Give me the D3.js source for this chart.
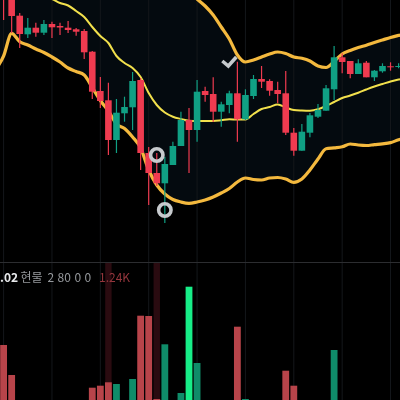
<!DOCTYPE html>
<html><head><meta charset="utf-8">
<style>html,body{margin:0;padding:0;background:#000;width:400px;height:400px;overflow:hidden}svg{display:block;filter:blur(.45px)}</style>
<script src="https://cdn.jsdelivr.net/npm/d3@7/dist/d3.min.js"></script></head><body>
<script>
const openP=[310,305,284.3,265.7,272.3,267.3,276,274,272.3,270.7,269,248.3,209,199.7,160,186.7,192.7,220,147,127,116.7,135,154,180,170,209,206,188.3,195,206.7,180.7,204,221,219,210,206.7,167.3,149.3,167.3,183.3,189.3,210.7,242.7,239,226,237.3,222.7,228.7,233.7,233];
const closeP=[302,284,266,272.3,267.3,276,272.7,272.5,270,268.3,247.7,208.3,199,160,187.3,193,219,147,127,116.7,136,154,180,170,208.3,205,188.3,195.7,206.7,180.7,205,221,218.3,209.3,206,167.3,149.3,168.3,184.7,190,211.7,242.7,238,226,236.7,222.7,229.3,234,232.7,234];
const highP=[314,308,287,282,277.3,280,278.3,277.3,279,272,271,249,223,217.3,201,203.3,228,222,153,147,143.3,158.3,188.3,192,220,213.3,222.7,198.3,209.3,238.3,210.7,225,234,220.7,218.3,229,172,176,187,196,215,254,246.7,239,240.7,239,230,236.7,237.7,236.7];
const lowP=[280,267,252,262,263.3,265,262,265,267,264.3,241,201,192,145,147,178.3,170,130,95,114,77,135,154,127,158.3,198.3,178,173.3,186.7,158.3,180,201,212,204.3,197,165,144.3,149.3,162.7,182,189.3,200,226.7,221.7,226,222.7,219,227.3,229.3,231.7];
// band arrays carry one extra value at each end, for the candles just outside the view
const upperBand=[360,360,360,360,360,360,360,360,360,360,360,360,360,360,360,360,360,355,350,345,340,335,328,320,310,301,294,285,273,261,245,238,240,243,246,248,246.5,243,241.7,239,234,232.5,238.5,246,249.5,252.4,254.8,257.5,260,262.5,264.6,266.5];
const midBand=[335,330,320,315,310,305,303,301,297,294.5,289,283,273,264,257,244,237,232,223,207,195,187.5,183.3,181,179.3,179,179,179,179.7,180.7,180.5,180.5,186,191,193,195.5,192.5,190,189.5,189.3,190.7,194,198,202,204.5,207.3,210.5,213.5,216,218.5,220.5,222];
const lowerBand=[230,244,266.7,258.3,255,251,247.5,243,238,232,228.5,225,212.5,199.5,189,176,171.5,163,152,130,115,106,100.5,98,96.7,98,100,103,107,111.5,118,122,120.5,120,122,122.5,121,117.7,121,130,141,151.3,152.2,153.2,156,155,154.5,155.4,156.2,157.4,160.2,162];
const volumes=[55,25,0,0,0,0,0,0,0,0,0,12.3,14.3,17.7,16,0,21,84.3,84,1,55.7,0,7,113.3,37,0,0,0,0,73.3,1,0,0,0,0,29.3,14.3,0,0,0,0,50,0,0,0,0,0,0,0,0];
const volumeKinds=["r","r","r","r","r","r","r","r","r","r","r","r","r","r","g","g","g","r","r","r","g","g","g","b","g","r","r","g","g","r","g","g","r","r","r","r","r","g","g","g","g","g","r","r","g","r","g","g","r","g"];
const highlightIdx=[13,19];
const gridIdx=[0,6,12,18,24,30,36,42,48];
const circleMarks=[{i:19,p:145},{i:20,p:90}];
const checkMark={i:28,p:238};
const legendTexts=[{t:".02",x:0,c:"#e8eaec",w:600},{t:"현물",x:20.5,c:"#96999d",w:400},{t:"2",x:47.5,c:"#96999d",w:400},{t:"80",x:57.5,c:"#96999d",w:400},{t:"0",x:74.5,c:"#96999d",w:400},{t:"0",x:84.5,c:"#96999d",w:400},{t:"1.24K",x:99,c:"#94363c",w:400}];

const W=400,H=400,paneBottom=262;
const COL={red:"#ef3b50",green:"#10a084",band:"#f4b93e",mid:"#f2e04c",fill:"#040a0f",grid:"#14171b",mark:"#c6cacd"};
const volCol={r:"#b8444a",g:"#0f8c69",b:"#17ee88"};
const idx=d3.range(openP.length);
const bandIdx=d3.range(-1,51);
const x=d3.scaleLinear().domain([0,49]).range([3.6,398.6]);
const y=d3.scaleLinear().domain([0,300]).range([300,0]);
const yV=d3.scaleLinear().domain([0,140]).range([400,260]);
const svg=d3.select("body").append("svg").attr("width",W).attr("height",H).style("background","#000");
svg.append("defs").append("clipPath").attr("id","pane").append("rect").attr("width",W).attr("height",paneBottom);
const main=svg.append("g").attr("clip-path","url(#pane)");
const curve=d3.curveMonotoneX;
main.append("path").datum(bandIdx).attr("fill",COL.fill)
 .attr("d",d3.area().x(i=>x(i)).y0(i=>y(lowerBand[i+1])).y1(i=>y(upperBand[i+1])).curve(curve));
// grid
svg.append("g").selectAll("line").data(gridIdx).join("line")
 .attr("x1",d=>x(d)).attr("x2",d=>x(d)).attr("y1",0).attr("y2",H).attr("stroke",COL.grid).attr("stroke-width",1);
// pane separator
svg.append("line").attr("x1",0).attr("x2",W).attr("y1",262.5).attr("y2",262.5).attr("stroke","#2c2d30");
// bands (behind the candles)
const line=a=>d3.line().x(i=>x(i)).y(i=>y(a[i+1])).curve(curve)(bandIdx);
const chart=svg.append("g").attr("clip-path","url(#pane)");
chart.append("path").attr("d",line(midBand)).attr("fill","none").attr("stroke",COL.mid).attr("stroke-width",2);
chart.append("path").attr("d",line(upperBand)).attr("fill","none").attr("stroke",COL.band).attr("stroke-width",3.2);
chart.append("path").attr("d",line(lowerBand)).attr("fill","none").attr("stroke",COL.band).attr("stroke-width",3.2);
// wicks & bodies
const up=i=>closeP[i]>=openP[i];
const col=i=>up(i)?COL.green:COL.red;
chart.append("g").selectAll("line").data(idx).join("line")
 .attr("x1",i=>x(i)).attr("x2",i=>x(i)).attr("y1",i=>y(highP[i])).attr("y2",i=>y(lowP[i]))
 .attr("stroke",col).attr("stroke-width",1.2);
chart.append("g").selectAll("rect").data(idx).join("rect")
 .attr("x",i=>x(i)-3.3).attr("width",6.6)
 .attr("y",i=>y(Math.max(openP[i],closeP[i])))
 .attr("height",i=>Math.max(1,Math.abs(y(openP[i])-y(closeP[i]))))
 .attr("fill",col);
// markers
chart.append("g").selectAll("circle").data(circleMarks).join("circle")
 .attr("cx",d=>x(d.i)).attr("cy",d=>y(d.p)).attr("r",6.2).attr("fill","none").attr("stroke",COL.mark).attr("stroke-width",3.6);
chart.append("path").attr("transform",`translate(${x(checkMark.i)},${y(checkMark.p)})`)
 .attr("d","M-7,-1L-1,4L7,-5").attr("fill","none").attr("stroke",COL.mark).attr("stroke-width",3.5);
// volume pane
svg.append("g").selectAll("rect.h").data(highlightIdx).join("rect").attr("class","h")
 .attr("x",i=>x(i)-3.2).attr("width",6.4).attr("y",263).attr("height",H-263).attr("fill","#2a0b10");
svg.append("g").selectAll("rect.v").data(idx.filter(i=>volumes[i]>0)).join("rect").attr("class","v")
 .attr("x",i=>x(i)-3.4).attr("width",6.8)
 .attr("y",i=>yV(volumes[i])).attr("height",i=>yV(0)-yV(volumes[i]))
 .attr("fill",i=>volCol[volumeKinds[i]]);
// legend
svg.append("g").selectAll("text").data(legendTexts).join("text")
 .attr("x",d=>d.x).attr("y",282).text(d=>d.t).attr("fill",d=>d.c).attr("font-weight",d=>d.w)
 .attr("font-size",12).attr("font-family","'Noto Sans CJK KR','Noto Sans',sans-serif");
</script></body></html>
